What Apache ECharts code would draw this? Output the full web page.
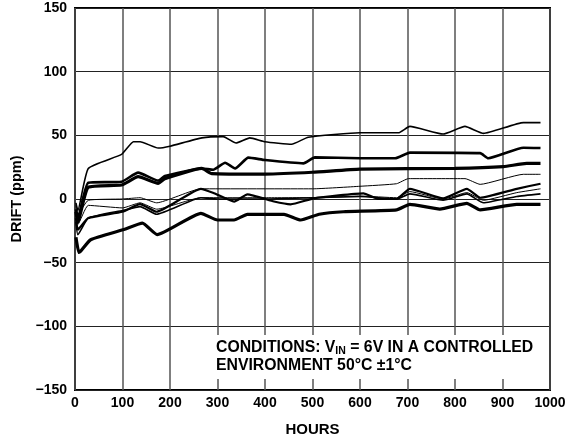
<!DOCTYPE html>
<html>
<head>
<meta charset="utf-8">
<script src="https://cdn.jsdelivr.net/npm/echarts@6/dist/echarts.min.js"></script>
<style>
html,body{margin:0;padding:0;background:#fff;}
#chart{width:588px;height:442px;}
</style>
</head>
<body>
<div id="chart"></div>
<script>
// Tick values
const xTicks = [0,100,200,300,400,500,600,700,800,900,1000];
const yTicks = [-150,-100,-50,0,50,100,150];

// Series data: [hours, drift ppm]
const seriesA = [[2,-3],[6,-9],[28,24],[98,35],[123,45],[137,45],[175,40],[200,41.5],[267,48],[312,49],[339,44],[368,48],[400,45],[456,43],[491,48.5],[600,52],[681,52],[705,57],[775,51],[821,57],[860,51.5],[944,60],[980,60]];
const seriesB = [[2,-8],[6,-15],[28,12.8],[98,13.6],[133,20.7],[175,14.4],[189,18],[267,24],[291,23],[316,28.5],[337,24],[365,32.5],[400,30.6],[481,28],[505,32.7],[600,32],[674,32],[705,36.4],[853,36],[870,32],[944,40.3],[980,40]];
const seriesC = [[2,-10],[6,-18],[28,9.2],[98,11],[133,17.5],[175,12.3],[189,16],[267,24],[288,20],[400,19.6],[500,21],[600,23.5],[800,24],[902,25.4],[951,28],[980,28]];
const seriesD = [[2,-5],[6,-12],[28,-1],[100,0],[137,1],[172,-3],[265,8],[500,8],[600,10],[677,12],[702,16],[821,16],[853,11.5],[944,19.4],[980,19.4]];
const seriesE = [[2,-15],[6,-24],[28,-15],[100,-10],[137,-4],[172,-10],[265,8],[293,4.5],[335,-2],[363,3.7],[419,-2],[454,-4.2],[503,0.5],[607,4.4],[640,0],[677,0],[705,8],[775,0.5],[825,8],[853,1],[930,8],[980,12]];
const seriesF = [[2,-12],[6,-20],[28,-5],[100,-7],[137,-3],[172,-8],[265,1],[400,1],[500,1],[600,2.3],[677,1],[705,5.8],[775,0],[825,5],[860,-1],[930,5],[980,8]];
const seriesG = [[2,-18],[6,-28],[28,-15],[100,-9],[137,-6],[172,-12],[265,1],[300,0],[400,0],[500,1],[600,2],[677,0],[705,4],[775,-1],[825,4],[860,-3],[930,2],[980,4]];
const seriesI = [[2,-30],[8,-42],[12,-41],[33,-32],[103,-24],[142,-19],[173,-28],[265,-11.3],[300,-16.5],[335,-16.5],[363,-12],[440,-12],[475,-16.5],[514,-12],[565,-10],[677,-8.6],[705,-4.2],[768,-7.9],[825,-3.4],[853,-8.6],[930,-4.2],[980,-4.2]];

const allSeries = [
  {data: seriesA, w: 1.6},
  {data: seriesB, w: 2.6},
  {data: seriesC, w: 3.2},
  {data: seriesD, w: 1.0},
  {data: seriesE, w: 2.2},
  {data: seriesF, w: 1.0},
  {data: seriesG, w: 1.6},
  {data: seriesI, w: 3.2}
];

const FONT = '"Liberation Sans", Arial, Helvetica, sans-serif';
const chart = echarts.init(document.getElementById('chart'), null, {renderer:'canvas'});
chart.setOption({
  animation: false,
  backgroundColor: '#fff',
  grid: {left: 75, right: 38, top: 8, bottom: 52, show: true, borderColor: '#000', borderWidth: 2, backgroundColor: 'transparent'},
  xAxis: {
    type: 'value', min: xTicks[0], max: xTicks[xTicks.length-1], interval: 100,
    name: 'HOURS', nameLocation: 'middle', nameGap: 32,
    nameTextStyle: {fontFamily: FONT, fontWeight: 'bold', fontSize: 15, color: '#000'},
    axisLine: {show: false}, axisTick: {show: false},
    axisLabel: {fontFamily: FONT, fontWeight: 'bold', fontSize: 14, color: '#000', margin: 6,
      formatter: v => String(v)},
    splitLine: {show: true, lineStyle: {color: '#555', width: 1.5}}
  },
  yAxis: {
    type: 'value', min: yTicks[0], max: yTicks[yTicks.length-1], interval: 50,
    name: 'DRIFT (ppm)', nameLocation: 'middle', nameGap: 49,
    nameTextStyle: {fontFamily: FONT, fontWeight: 'bold', fontSize: 14.5, color: '#000'},
    axisLine: {show: false}, axisTick: {show: false},
    axisLabel: {fontFamily: FONT, fontWeight: 'bold', fontSize: 14, color: '#000', margin: 8,
      formatter: v => String(v).replace('-', '\u2212')},
    splitLine: {show: true, lineStyle: {color: '#222', width: 1}}
  },
  series: allSeries.map(s => ({
    type: 'line', data: s.data, showSymbol: false, smooth: 0.15,
    lineStyle: {color: '#000', width: s.w}, z: 3
  })),
  graphic: [
    {type: 'rect', shape: {x: 205, y: 335, width: 343, height: 44}, style: {fill: '#fff'}, z: 10},
    {type: 'text', left: 216, top: 340, z: 11,
      style: {
        text: '{m|CONDITIONS: V}{s|IN}{m| = 6V IN A CONTROLLED}\n{m|ENVIRONMENT 50°C ±1°C}',
        rich: {
          m: {fontFamily: FONT, fontWeight: 'bold', fontSize: 15.8, lineHeight: 18, fill: '#000'},
          s: {fontFamily: FONT, fontWeight: 'bold', fontSize: 10.5, lineHeight: 8, verticalAlign: 'bottom', fill: '#000'}
        }
      }
    }
  ]
});
</script>
</body>
</html>
